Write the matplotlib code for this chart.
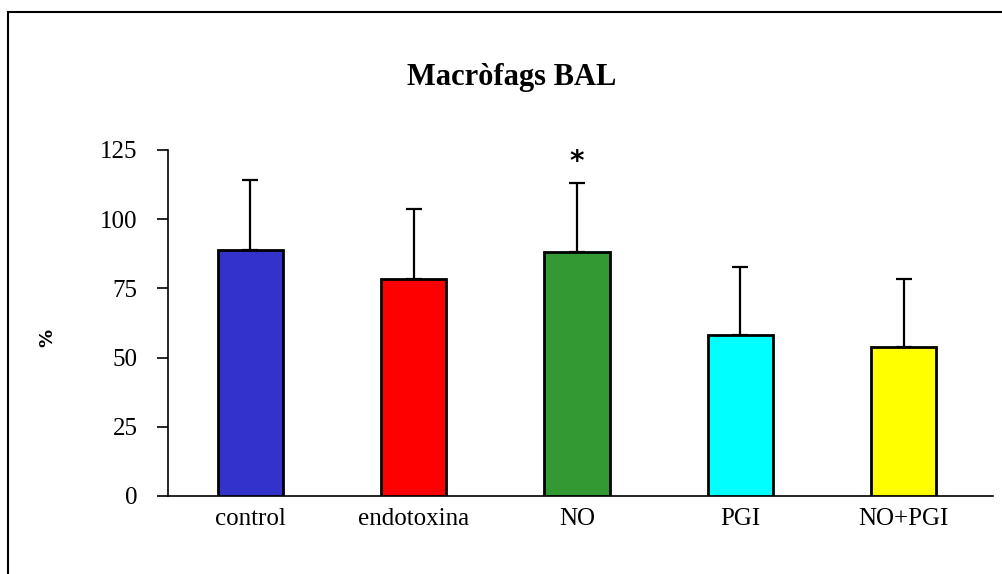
import matplotlib
matplotlib.use("Agg")
import matplotlib.pyplot as plt
from matplotlib.patches import Rectangle

categories = ["control", "endotoxina", "NO", "PGI", "NO+PGI"]
means = [89.0, 78.5, 88.2, 58.2, 53.8]
errors = [25.3, 25.3, 24.9, 24.5, 24.6]
colors = ["#3333CC", "#FF0000", "#339933", "#00FFFF", "#FFFF00"]
yticks = [0, 25, 50, 75, 100, 125]

plt.rcParams["font.family"] = ["Liberation Serif", "DejaVu Serif"]

fig = plt.figure(figsize=(10.03, 5.74), dpi=100)
ax = fig.add_axes([0.1675, 0.1359, 0.8225, 0.6028])

x = list(range(len(categories)))
ax.bar(x, means, width=0.40, color=colors, edgecolor="black", linewidth=2, zorder=3)
ax.errorbar(x, means, yerr=[[0] * len(errors), errors], fmt="none", ecolor="black",
            elinewidth=1.6, capsize=6, capthick=1.6, zorder=2)

# significance mark over NO
ax.text(2, means[2] + errors[2] + 2.5, "*", ha="center", va="bottom", fontsize=20,
        fontweight="bold", family="DejaVu Sans")

ax.set_xlim(-0.505, 4.548)
ax.set_ylim(0, 125)
ax.set_yticks(yticks)
ax.set_xticks(x)
ax.set_xticklabels(categories, fontsize=18)
ax.tick_params(axis="y", length=8, width=1.2, pad=14, labelsize=18)
ax.tick_params(axis="x", length=0, pad=9)
for s in ["top", "right"]:
    ax.spines[s].set_visible(False)
ax.spines["left"].set_linewidth(1.2)
ax.spines["bottom"].set_linewidth(1.2)

# y label sits far out to the left
fig.text(47 / 1003, 1 - 338 / 574, "%", rotation=90, ha="center", va="center",
         fontsize=13, fontweight="bold", family="DejaVu Sans")

fig.text(0.510, 0.865, "Macròfags BAL", ha="center", va="center", fontsize=22,
         fontweight="bold")

# outer frame
fig.patches.append(Rectangle((8 / 1003, -0.1), 1.2, 1 - 12 / 574 + 0.1,
                             transform=fig.transFigure, fill=False,
                             edgecolor="black", linewidth=1.5))

plt.savefig("out.png", dpi=100)
